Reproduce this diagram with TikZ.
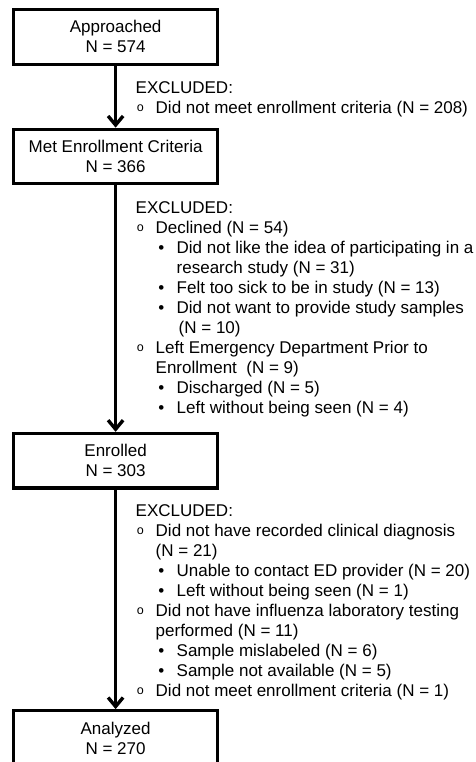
\documentclass[tikz,border=0pt]{standalone}
\usepackage{fontspec}
\setmainfont{Liberation Sans}
\setmonofont{Liberation Mono}
\usetikzlibrary{arrows.meta}

\tikzset{
  stage/.style={draw, line width=3.2pt, minimum width=204pt, minimum height=54.5pt,
    inner sep=0pt, align=center, font=\fontsize{17}{20}\selectfont},
  flow/.style={line width=3.4pt, -{Straight Barb[length=9pt,width=15pt]}},
  excl/.style={anchor=north west, inner sep=0pt, font=\fontsize{17}{20}\selectfont}
}
\newcommand{\lvlone}{\hspace{1pt}\raisebox{1.6pt}{\fontsize{12.5}{20}\selectfont\texttt{o}}}
\newcommand{\lvltwo}{\hspace{2.6pt}\textbullet}
\newcommand{\head}{\multicolumn{3}{@{}l@{}}{EXCLUDED:}}

\begin{document}
\begin{tikzpicture}[x=1pt,y=-1pt]
  \useasboundingbox (0,0) rectangle (475,762);
  \node[stage] (approached) at (115.6,36.9) {Approached\\N = 574};
  \node[stage] (met) at (115.6,156.5) {Met Enrollment Criteria\\N = 366};
  \node[stage] (enrolled) at (115.6,460.7) {Enrolled\\N = 303};
  \node[stage] (analyzed) at (115.6,738) {Analyzed\\N = 270};
  \draw[flow] (approached) -- (met);
  \draw[flow] (met) -- (enrolled);
  \draw[flow] (enrolled) -- (analyzed);
  \node[excl] (excl1) at (135.5,79) {\begin{tabular}{@{}p{20pt}@{}p{21pt}@{}l@{}}
    \head\\
    \lvlone & \multicolumn{2}{@{}l@{}}{Did not meet enrollment criteria (N = 208)}
  \end{tabular}};
  \node[excl] (excl2) at (135.5,199) {\begin{tabular}{@{}p{20pt}@{}p{21pt}@{}l@{}}
    \head\\
    \lvlone & \multicolumn{2}{@{}l@{}}{Declined (N = 54)}\\
    & \lvltwo & Did not like the idea of participating in a\\
    & & research study (N = 31)\\
    & \lvltwo & Felt too sick to be in study (N = 13)\\
    & \lvltwo & Did not want to provide study samples\\
    & & \hspace{2pt}(N = 10)\\
    \lvlone & \multicolumn{2}{@{}l@{}}{Left Emergency Department Prior to}\\
    & \multicolumn{2}{@{}l@{}}{Enrollment\ \ (N = 9)}\\
    & \lvltwo & Discharged (N = 5)\\
    & \lvltwo & Left without being seen (N = 4)
  \end{tabular}};
  \node[excl] (excl3) at (135.5,502) {\begin{tabular}{@{}p{20pt}@{}p{21pt}@{}l@{}}
    \head\\
    \lvlone & \multicolumn{2}{@{}l@{}}{Did not have recorded clinical diagnosis}\\
    & \multicolumn{2}{@{}l@{}}{(N = 21)}\\
    & \lvltwo & Unable to contact ED provider (N = 20)\\
    & \lvltwo & Left without being seen (N = 1)\\
    \lvlone & \multicolumn{2}{@{}l@{}}{Did not have influenza laboratory testing}\\
    & \multicolumn{2}{@{}l@{}}{performed (N = 11)}\\
    & \lvltwo & Sample mislabeled (N = 6)\\
    & \lvltwo & Sample not available (N = 5)\\
    \lvlone & \multicolumn{2}{@{}l@{}}{Did not meet enrollment criteria (N = 1)}
  \end{tabular}};
\end{tikzpicture}
\end{document}
